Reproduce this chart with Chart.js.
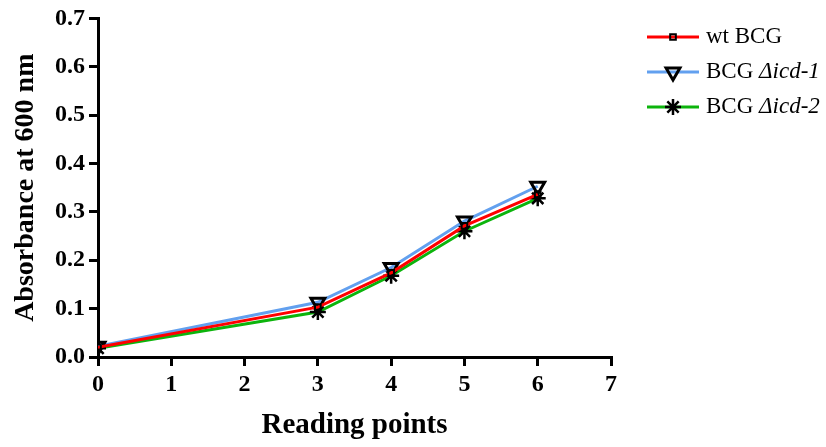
<!DOCTYPE html>
<html>
<head>
<meta charset="utf-8">
<title>Absorbance at 600 nm</title>
<script src="https://cdn.jsdelivr.net/npm/chart.js@4/dist/chart.umd.min.js"></script>
<style>
  html, body { margin: 0; padding: 0; background: #fff; }
  #wrap { width: 826px; height: 447px; }
</style>
</head>
<body>
<div id="wrap"><canvas id="growthChart" width="826" height="447"></canvas></div>
<script>
// reading points and absorbance values
const readingPoints = [0, 3, 4, 5, 6];
const wtBCG   = [0.020, 0.103, 0.174, 0.271, 0.336];
const icd1BCG = [0.022, 0.113, 0.185, 0.281, 0.353];
const icd2BCG = [0.018, 0.093, 0.168, 0.260, 0.328];
const xTicks = [0, 1, 2, 3, 4, 5, 6, 7];
const yTicks = [0.0, 0.1, 0.2, 0.3, 0.4, 0.5, 0.6, 0.7];

const serif = "'Liberation Serif', 'Times New Roman', serif";

function toPoints(values) {
    return readingPoints.map((x, i) => ({ x: x, y: values[i] }));
}

const series = [
    { name: 'wt BCG', italic: '', data: wtBCG, color: '#ff0000', marker: 'rect', radius: 4, rotation: 0, bw: 2 },
    { name: 'BCG ', italic: 'Δicd-1', data: icd1BCG, color: '#62a0ef', marker: 'triangle', radius: 8, rotation: 180, bw: 3 },
    { name: 'BCG ', italic: 'Δicd-2', data: icd2BCG, color: '#0cb40c', marker: 'star', radius: 8, rotation: 0, bw: 2.5 }
];

// legend at the right: line + marker + roman/italic text
const sideLegend = {
    id: 'sideLegend',
    afterDraw(chart) {
        const ctx = chart.ctx;
        ctx.save();
        series.forEach((s, i) => {
            const y = 37 + i * 35;
            ctx.strokeStyle = s.color;
            ctx.lineWidth = 3;
            ctx.beginPath();
            ctx.moveTo(647, y);
            ctx.lineTo(699, y);
            ctx.stroke();
            ctx.strokeStyle = '#000';
            ctx.fillStyle = 'rgba(0,0,0,0)';
            ctx.lineWidth = s.bw;
            Chart.helpers.drawPoint(ctx, {
                pointStyle: s.marker,
                radius: s.radius,
                rotation: s.rotation,
                borderWidth: s.bw
            }, 673, y);
            ctx.fillStyle = '#000';
            ctx.textBaseline = 'middle';
            ctx.font = '23px ' + serif;
            ctx.fillText(s.name, 706, y);
            if (s.italic) {
                const w = ctx.measureText(s.name).width;
                ctx.font = 'italic 23px ' + serif;
                ctx.fillText(s.italic, 706 + w, y);
            }
        });
        ctx.restore();
    }
};

new Chart(document.getElementById('growthChart').getContext('2d'), {
    type: 'line',
    data: {
        datasets: series.map(s => ({
            label: s.name + s.italic,
            data: toPoints(s.data),
            borderColor: s.color,
            borderWidth: 3,
            pointStyle: s.marker,
            pointRadius: s.radius,
            pointRotation: s.rotation,
            pointBorderColor: '#000',
            pointBorderWidth: s.bw,
            pointBackgroundColor: 'rgba(0,0,0,0)',
            tension: 0
        }))
    },
    options: {
        responsive: false,
        animation: false,
        layout: { padding: { top: 16, right: 215, left: 5, bottom: 0 } },
        plugins: {
            legend: { display: false },
            tooltip: { enabled: false }
        },
        scales: {
            x: {
                type: 'linear',
                min: 0,
                max: 7,
                afterBuildTicks: scale => { scale.ticks = xTicks.map(v => ({ value: v })); },
                afterFit: scale => { scale.height = 90; },
                border: { color: '#000', width: 3 },
                grid: { drawOnChartArea: false, color: '#000', lineWidth: 3, tickLength: 9 },
                ticks: {
                    color: '#000',
                    padding: 4,
                    font: { family: serif, size: 24, weight: 'bold' }
                },
                title: {
                    display: true,
                    text: 'Reading points',
                    color: '#000',
                    padding: { top: 4 },
                    font: { family: serif, size: 29, weight: 'bold' }
                }
            },
            y: {
                min: 0,
                max: 0.7,
                afterBuildTicks: scale => { scale.ticks = yTicks.map(v => ({ value: v })); },
                afterFit: scale => { scale.width = 93; },
                border: { color: '#000', width: 3 },
                grid: { drawOnChartArea: false, color: '#000', lineWidth: 3, tickLength: 9 },
                ticks: {
                    color: '#000',
                    padding: 4,
                    callback: v => Number(v).toFixed(1),
                    font: { family: serif, size: 24, weight: 'bold' }
                },
                title: {
                    display: true,
                    text: 'Absorbance at 600 nm',
                    color: '#000',
                    padding: { bottom: 2 },
                    font: { family: serif, size: 28, weight: 'bold' }
                }
            }
        }
    },
    plugins: [sideLegend]
});
</script>
</body>
</html>
